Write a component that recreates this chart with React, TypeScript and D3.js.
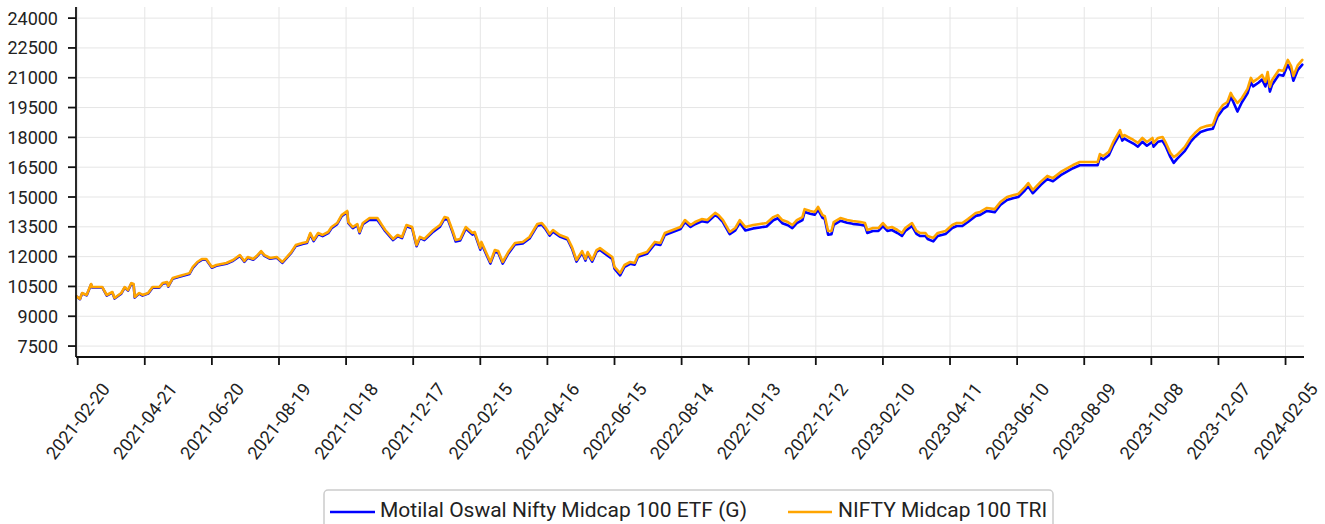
import React from "react";
import * as d3 from "d3";

const DATES = [
  "2021-02-19","2021-02-22","2021-02-24","2021-02-28","2021-03-04","2021-03-05","2021-03-14","2021-03-18","2021-03-23","2021-03-25",
  "2021-03-31","2021-04-03","2021-04-06","2021-04-09","2021-04-11","2021-04-12","2021-04-16","2021-04-19","2021-04-24","2021-04-28",
  "2021-05-04","2021-05-07","2021-05-11","2021-05-12","2021-05-16","2021-05-22","2021-05-31","2021-06-03","2021-06-07","2021-06-11",
  "2021-06-15","2021-06-20","2021-06-24","2021-07-03","2021-07-09","2021-07-15","2021-07-19","2021-07-22","2021-07-27","2021-07-30",
  "2021-08-03","2021-08-06","2021-08-11","2021-08-17","2021-08-22","2021-08-26","2021-08-30","2021-09-03","2021-09-09","2021-09-13",
  "2021-09-16","2021-09-19","2021-09-23","2021-09-27","2021-10-02","2021-10-05","2021-10-10","2021-10-14","2021-10-19","2021-10-20",
  "2021-10-24","2021-10-28","2021-10-30","2021-11-02","2021-11-08","2021-11-15","2021-11-19","2021-11-22","2021-11-29","2021-12-03",
  "2021-12-07","2021-12-11","2021-12-16","2021-12-20","2021-12-23","2021-12-27","2022-01-04","2022-01-10","2022-01-14","2022-01-17",
  "2022-01-21","2022-01-24","2022-01-28","2022-02-02","2022-02-08","2022-02-10","2022-02-15","2022-02-16","2022-02-24","2022-02-28",
  "2022-03-03","2022-03-07","2022-03-12","2022-03-18","2022-03-25","2022-03-31","2022-04-07","2022-04-11","2022-04-14","2022-04-18",
  "2022-04-21","2022-04-27","2022-05-04","2022-05-08","2022-05-12","2022-05-17","2022-05-20","2022-05-22","2022-05-26","2022-05-30",
  "2022-06-02","2022-06-08","2022-06-13","2022-06-15","2022-06-20","2022-06-24","2022-06-29","2022-07-03","2022-07-06","2022-07-14",
  "2022-07-21","2022-07-26","2022-07-30","2022-08-06","2022-08-13","2022-08-17","2022-08-22","2022-08-26","2022-09-01","2022-09-06",
  "2022-09-13","2022-09-16","2022-09-20","2022-09-26","2022-10-01","2022-10-05","2022-10-10","2022-10-17","2022-10-23","2022-10-29",
  "2022-11-04","2022-11-08","2022-11-12","2022-11-17","2022-11-21","2022-11-25","2022-11-30","2022-12-02","2022-12-07","2022-12-11",
  "2022-12-14","2022-12-18","2022-12-20","2022-12-23","2022-12-26","2022-12-28","2023-01-03","2023-01-09","2023-01-14","2023-01-21",
  "2023-01-25","2023-01-27","2023-02-01","2023-02-06","2023-02-10","2023-02-14","2023-02-18","2023-02-23","2023-02-27","2023-03-02",
  "2023-03-08","2023-03-12","2023-03-15","2023-03-20","2023-03-22","2023-03-27","2023-03-31","2023-04-07","2023-04-13","2023-04-17",
  "2023-04-22","2023-04-27","2023-05-04","2023-05-08","2023-05-14","2023-05-21","2023-05-26","2023-06-01","2023-06-07","2023-06-11",
  "2023-06-17","2023-06-20","2023-06-24","2023-07-01","2023-07-07","2023-07-12","2023-07-19","2023-07-30","2023-08-05","2023-08-12",
  "2023-08-21","2023-08-23","2023-08-26","2023-08-31","2023-09-04","2023-09-10","2023-09-12","2023-09-14","2023-09-17","2023-09-22",
  "2023-09-26","2023-09-30","2023-10-04","2023-10-09","2023-10-10","2023-10-14","2023-10-18","2023-10-21","2023-10-25","2023-10-28",
  "2023-10-31","2023-11-07","2023-11-12","2023-11-16","2023-11-21","2023-11-27","2023-12-02","2023-12-06","2023-12-11","2023-12-15",
  "2023-12-18","2023-12-20","2023-12-24","2023-12-28","2024-01-02","2024-01-05","2024-01-07","2024-01-12","2024-01-15","2024-01-18",
  "2024-01-20","2024-01-22","2024-01-24","2024-01-30","2024-02-03","2024-02-07","2024-02-10","2024-02-12","2024-02-16","2024-02-20",
];

const TRI = [
  10000, 9870, 10170, 10070, 10620, 10470, 10470, 10070, 10220, 9920,
  10170, 10470, 10320, 10670, 10620, 9970, 10170, 10070, 10170, 10470,
  10470, 10670, 10720, 10520, 10920, 11020, 11170, 11480, 11730, 11880,
  11880, 11480, 11580, 11680, 11830, 12080, 11780, 11980, 11880, 12030,
  12280, 12080, 11930, 11980, 11730, 11980, 12230, 12580, 12690, 12740,
  13190, 12840, 13190, 13090, 13240, 13490, 13690, 14090, 14300, 13740,
  13490, 13640, 13240, 13690, 13940, 13940, 13590, 13340, 12890, 13090,
  12990, 13590, 13490, 12580, 12990, 12890, 13340, 13590, 13990, 13940,
  13340, 12840, 12890, 13490, 13190, 13240, 12430, 12740, 11730, 12330,
  12280, 11730, 12230, 12690, 12740, 12990, 13640, 13690, 13490, 13140,
  13340, 13090, 12940, 12480, 11830, 12280, 11880, 12230, 11830, 12330,
  12430, 12180, 11980, 11480, 11170, 11580, 11730, 11680, 12080, 12230,
  12740, 12690, 13190, 13340, 13490, 13840, 13590, 13740, 13890, 13840,
  14200, 14090, 13840, 13240, 13440, 13840, 13490, 13590, 13640, 13690,
  13990, 14090, 13840, 13740, 13590, 13840, 13990, 14390, 14300, 14250,
  14500, 14090, 14040, 13290, 13290, 13740, 13940, 13840, 13790, 13740,
  13690, 13340, 13440, 13440, 13690, 13440, 13490, 13340, 13190, 13440,
  13690, 13290, 13190, 13190, 13040, 12940, 13190, 13290, 13590, 13690,
  13690, 13890, 14200, 14250, 14450, 14390, 14750, 15000, 15100, 15150,
  15500, 15700, 15350, 15760, 16060, 15950, 16260, 16610, 16760, 16760,
  16760, 17160, 17060, 17270, 17770, 18370, 18020, 18120, 18020, 17870,
  17720, 17970, 17770, 17970, 17720, 17970, 18020, 17720, 17220, 17010,
  17120, 17520, 17970, 18220, 18470, 18580, 18630, 19230, 19630, 19780,
  20240, 20030, 19730, 19980, 20440, 20990, 20790, 20990, 21140, 20790,
  21290, 20540, 20890, 21390, 21340, 21900, 21590, 21090, 21640, 21900,
];

const ETF = [
  10000, 9860, 10150, 10050, 10600, 10450, 10450, 10040, 10190, 9890,
  10140, 10440, 10290, 10640, 10590, 9940, 10140, 10040, 10140, 10440,
  10440, 10640, 10690, 10490, 10890, 10990, 11130, 11440, 11690, 11840,
  11840, 11440, 11540, 11640, 11790, 12040, 11740, 11940, 11840, 11990,
  12240, 12040, 11890, 11940, 11690, 11940, 12190, 12530, 12640, 12690,
  13130, 12780, 13130, 13030, 13180, 13430, 13630, 14030, 14240, 13680,
  13430, 13580, 13180, 13630, 13860, 13840, 13530, 13280, 12830, 13030,
  12930, 13530, 13430, 12520, 12930, 12830, 13260, 13510, 13910, 13860,
  13260, 12760, 12810, 13410, 13110, 13160, 12350, 12660, 11650, 12250,
  12200, 11650, 12150, 12610, 12660, 12910, 13560, 13610, 13410, 13060,
  13260, 13010, 12860, 12400, 11750, 12200, 11800, 12150, 11750, 12250,
  12340, 12090, 11890, 11390, 11060, 11490, 11640, 11590, 11990, 12140,
  12640, 12590, 13090, 13240, 13390, 13740, 13490, 13630, 13780, 13730,
  14090, 13980, 13730, 13130, 13320, 13700, 13320, 13420, 13470, 13520,
  13830, 13930, 13680, 13580, 13430, 13680, 13840, 14250, 14160, 14110,
  14360, 13950, 13900, 13100, 13130, 13600, 13800, 13700, 13650, 13600,
  13550, 13190, 13290, 13290, 13540, 13290, 13340, 13190, 13040, 13290,
  13540, 13140, 13040, 13040, 12890, 12770, 13040, 13140, 13440, 13540,
  13540, 13740, 14050, 14100, 14300, 14240, 14600, 14850, 14950, 15000,
  15340, 15540, 15190, 15600, 15900, 15790, 16100, 16450, 16600, 16600,
  16600, 16990, 16890, 17100, 17600, 18190, 17840, 17940, 17840, 17690,
  17530, 17780, 17580, 17780, 17530, 17780, 17830, 17530, 17020, 16720,
  16920, 17320, 17770, 18020, 18270, 18380, 18430, 19020, 19420, 19570,
  20030, 19820, 19300, 19770, 20220, 20770, 20570, 20760, 20910, 20560,
  21060, 20300, 20650, 21150, 21100, 21650, 21340, 20850, 21400, 21660,
];

const X_TICKS = [
  "2021-02-20","2021-04-21","2021-06-20","2021-08-19","2021-10-18","2021-12-17",
  "2022-02-15","2022-04-16","2022-06-15","2022-08-14","2022-10-13","2022-12-12",
  "2023-02-10","2023-04-11","2023-06-10","2023-08-09","2023-10-08","2023-12-07","2024-02-05",
];
const Y_TICKS = [7500, 9000, 10500, 12000, 13500, 15000, 16500, 18000, 19500, 21000, 22500, 24000];

const SERIES = [
  { name: "Motilal Oswal Nifty Midcap 100 ETF (G)", values: ETF, color: "#0000ff" },
  { name: "NIFTY Midcap 100 TRI", values: TRI, color: "#ffa500" },
];

const W = 1325;
const H = 524;
const L = 76, R = 1304, T = 7, B = 357;
const FONT = "Roboto, 'DejaVu Sans', sans-serif";

export default function App() {
  const parse = d3.utcParse("%Y-%m-%d");
  const x = d3
    .scaleUtc()
    .domain([new Date(Date.UTC(2021, 1, 18, 12)), new Date(Date.UTC(2024, 1, 21, 12))])
    .range([L, R]);
  const y = d3.scaleLinear().domain([6950, 24560]).range([B, T]);
  const dates = DATES.map((d) => parse(d) as Date);

  const lineFor = (vals: number[]) =>
    d3
      .line<number>()
      .x((_, i) => x(dates[i]))
      .y((v) => y(v))(vals) as string;

  return (
    <div style={{ position: "fixed", left: 0, top: 0 }}>
      <svg width={W} height={H} style={{ display: "block", background: "#fff" }} fontFamily={FONT}>
        {/* grid */}
        {Y_TICKS.map((t) => (
          <line key={"gy" + t} x1={L} x2={R} y1={y(t)} y2={y(t)} stroke="#e5e5e5" strokeWidth={1} />
        ))}
        {X_TICKS.map((t) => {
          const px = x(parse(t) as Date);
          return <line key={"gx" + t} x1={px} x2={px} y1={T} y2={B} stroke="#e5e5e5" strokeWidth={1} />;
        })}
        {/* series */}
        {SERIES.map((s) => (
          <path
            key={s.name}
            d={lineFor(s.values)}
            fill="none"
            stroke={s.color}
            strokeWidth={2.6}
            strokeLinejoin="round"
            strokeLinecap="round"
          />
        ))}
        {/* axes */}
        <line x1={L} x2={L} y1={T} y2={B} stroke="#111" strokeWidth={1.8} />
        <line x1={L} x2={R} y1={B} y2={B} stroke="#111" strokeWidth={1.8} />
        {Y_TICKS.map((t) => (
          <g key={"ty" + t}>
            <line x1={L - 8} x2={L} y1={y(t)} y2={y(t)} stroke="#111" strokeWidth={1.8} />
            <text x={58} y={y(t)} textAnchor="end" dominantBaseline="central" fontSize={18} fill="#222">
              {t}
            </text>
          </g>
        ))}
        {X_TICKS.map((t) => {
          const px = x(parse(t) as Date);
          return (
            <g key={"tx" + t}>
              <line x1={px} x2={px} y1={B} y2={B + 8} stroke="#111" strokeWidth={1.8} />
              <text
                transform={`translate(${px},421) rotate(-52)`}
                textAnchor="middle"
                dominantBaseline="central"
                fontSize={18}
                fill="#222"
              >
                {t}
              </text>
            </g>
          );
        })}
        {/* legend */}
        <rect x={324} y={490} width={729} height={44} rx={4} fill="#fff" stroke="#cccccc" strokeWidth={1.5} />
        <line x1={330} x2={375} y1={512} y2={512} stroke={SERIES[0].color} strokeWidth={2.6} />
        <text x={380} y={517} fontSize={21} fill="#222">
          {SERIES[0].name}
        </text>
        <line x1={788} x2={832} y1={512} y2={512} stroke={SERIES[1].color} strokeWidth={2.6} />
        <text x={838} y={517} fontSize={21} fill="#222">
          {SERIES[1].name}
        </text>
      </svg>
    </div>
  );
}
